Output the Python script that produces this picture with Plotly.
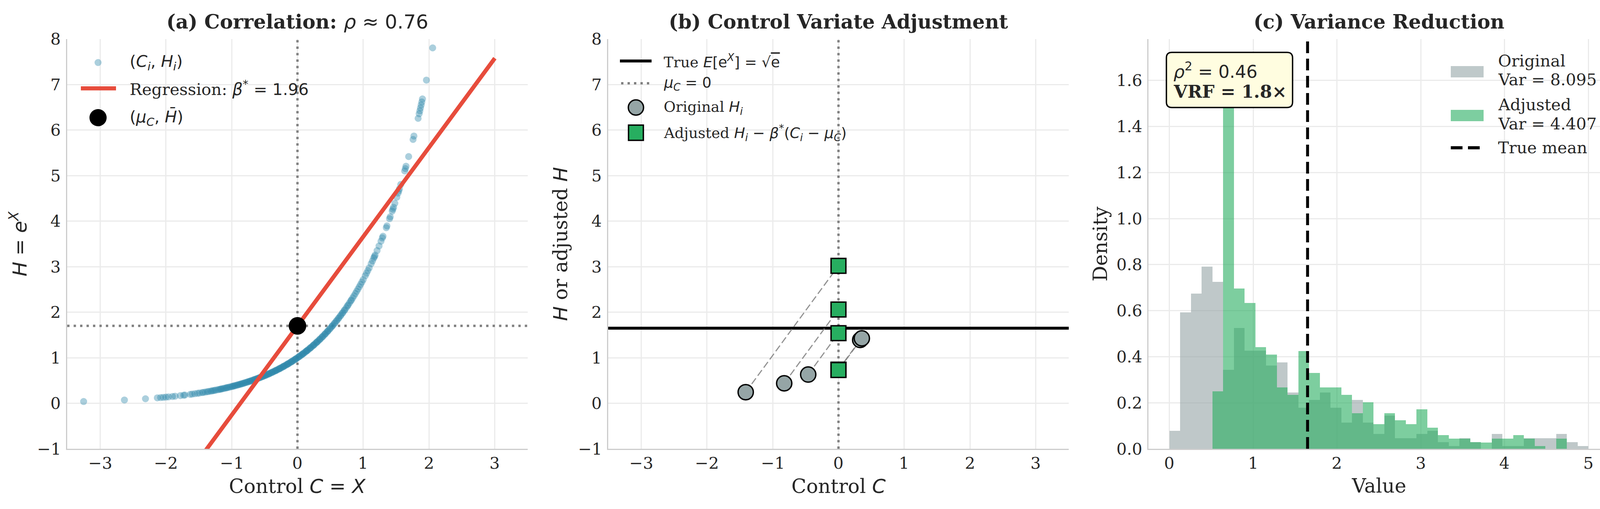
import numpy as np
import plotly.graph_objects as go

W, H = 4150, 1302

# ---------------- data ----------------
# panel (a): control samples C_i; H_i = e^{C_i} by definition
ctrl_a = [-3.25, -2.63, -2.31, -2.13, -2.08, -2.04, -2.00, -1.96, -1.90, -1.86, -1.78, -1.73,
          -1.71, -1.63, -1.60, -1.56, -1.52, -1.49, -1.45, -1.43, -1.40, -1.37, -1.35, -1.32,
          -1.30, -1.28, -1.26, -1.24, -1.21, -1.19, -1.17, -1.16, -1.14, -1.12, -1.10, -1.08,
          -1.07, -1.05, -1.03, -1.01, -0.99, -0.98, -0.96, -0.95, -0.93, -0.91, -0.90, -0.88,
          -0.87, -0.85, -0.84, -0.82, -0.81, -0.79, -0.78, -0.76, -0.75, -0.73, -0.72, -0.71,
          -0.69, -0.68, -0.66, -0.65, -0.64, -0.62, -0.61, -0.60, -0.58, -0.57, -0.56, -0.54,
          -0.53, -0.52, -0.50, -0.49, -0.48, -0.47, -0.45, -0.44, -0.43, -0.42, -0.40, -0.39,
          -0.38, -0.37, -0.35, -0.34, -0.33, -0.32, -0.31, -0.29, -0.28, -0.27, -0.26, -0.25,
          -0.23, -0.22, -0.21, -0.20, -0.19, -0.17, -0.16, -0.15, -0.14, -0.13, -0.11, -0.10,
          -0.09, -0.08, -0.07, -0.05, -0.04, -0.03, -0.02, -0.01, 0.01, 0.02, 0.03, 0.04,
          0.06, 0.07, 0.08, 0.09, 0.10, 0.12, 0.13, 0.14, 0.15, 0.16, 0.18, 0.19, 0.20, 0.21,
          0.23, 0.24, 0.25, 0.26, 0.28, 0.29, 0.30, 0.31, 0.33, 0.34, 0.35, 0.37, 0.38, 0.39,
          0.41, 0.42, 0.43, 0.45, 0.46, 0.47, 0.49, 0.50, 0.52, 0.53, 0.54, 0.56, 0.57, 0.59,
          0.60, 0.62, 0.63, 0.65, 0.66, 0.68, 0.69, 0.71, 0.72, 0.74, 0.76, 0.77, 0.79, 0.81,
          0.82, 0.84, 0.86, 0.88, 0.90, 0.92, 0.94, 0.96, 0.98, 1.00, 1.03, 1.05, 1.07, 1.09,
          1.12, 1.14, 1.16, 1.17, 1.18, 1.21, 1.24, 1.27, 1.29, 1.30, 1.35, 1.36, 1.40, 1.41,
          1.44, 1.45, 1.46, 1.48, 1.51, 1.53, 1.54, 1.55, 1.57, 1.63, 1.64, 1.65, 1.69, 1.757,
          1.77, 1.834, 1.85, 1.86, 1.87, 1.88, 1.89, 1.90, 1.96, 2.055]
h_a = np.exp(ctrl_a)
mu_c = 0.0
h_bar = 1.70
beta = 1.96
reg_x = [-3.0, 3.0]
reg_y = [-4.18, 7.58]

# panel (b)
ctrl_b = [-1.41, -0.825, -0.46, 0.33, 0.355]
h_b = [0.244, 0.438, 0.631, 1.391, 1.426]
adj_b = [3.02, 2.06, 1.54, 0.74, 0.73]
true_mean = 1.6487

# panel (c): histogram densities on 39 equal bins over [0, 5]
bin_lo, bin_hi, n_bins = 0.0, 5.0, 39
dens_orig = [0.078, 0.592, 0.675, 0.791, 0.725, 0.343, 0.525, 0.427, 0.427, 0.361,
             0.376, 0.245, 0.179, 0.212, 0.245, 0.179, 0.113, 0.212, 0.113, 0.064,
             0.145, 0.046, 0.046, 0.064, 0.078, 0.029, 0.012, 0.046, 0.029, 0.0,
             0.064, 0.012, 0.012, 0.046, 0.046, 0.046, 0.064, 0.029, 0.012]
dens_adj = [0.0, 0.0, 0.0, 0.0, 0.250, 1.69, 0.696, 0.633, 0.442, 0.410,
            0.267, 0.235, 0.425, 0.330, 0.267, 0.267, 0.235, 0.155, 0.202, 0.107,
            0.155, 0.124, 0.107, 0.172, 0.092, 0.060, 0.044, 0.044, 0.029, 0.027,
            0.044, 0.044, 0.060, 0.044, 0.012, 0.0, 0.044, 0.0, 0.0]
var_orig, var_adj = "8.095", "4.407"
rho2, vrf = "0.46", "1.8"

ticks_ab_x = [-3, -2, -1, 0, 1, 2, 3]
ticks_ab_y = [-1, 0, 1, 2, 3, 4, 5, 6, 7, 8]
ticks_c_x = [0, 1, 2, 3, 4, 5]
ticks_c_y = [0.0, 0.2, 0.4, 0.6, 0.8, 1.0, 1.2, 1.4, 1.6]

# axis ranges
xr_ab, yr_ab = [-3.5, 3.5], [-1, 8]
xr_c, yr_c = [-0.25, 5.25], [0, 1.78]

# ---------------- style ----------------
SERIF = "DejaVu Serif"
TXT = "#262626"
RED = "#E74C3C"
GREY = "#95A5A6"
GREEN = "#27AE60"
REFGREY = "#808080"
DOT = "6px,10.5px"
TICK_SIZE = 41.7


def m(s, size):
    return f'<span style="font-family:DejaVu Sans;font-size:{size}px">{s}</span>'


def fx(px):
    return px / W


def fy(py):
    return 1 - py / H


fig = go.Figure()


def ref_line(x, y, xa, ya, color, width, dash):
    fig.add_trace(go.Scatter(x=x, y=y, mode="lines", xaxis=xa, yaxis=ya,
                             line=dict(color=color, width=width, dash=dash)))


# ---- panel (a)
ref_line([mu_c, mu_c], yr_ab, "x", "y", REFGREY, 6, DOT)
ref_line(xr_ab, [h_bar, h_bar], "x", "y", REFGREY, 6, DOT)
fig.add_trace(go.Scatter(x=ctrl_a, y=h_a, mode="markers", xaxis="x", yaxis="y",
                         marker=dict(size=18, color="rgba(46,134,171,0.4)", line=dict(width=0))))
fig.add_trace(go.Scatter(x=reg_x, y=reg_y, mode="lines", xaxis="x", yaxis="y",
                         line=dict(color=RED, width=10.5)))
fig.add_trace(go.Scatter(x=[mu_c], y=[h_bar], mode="markers", xaxis="x", yaxis="y",
                         marker=dict(size=45, color="black", line=dict(width=0))))

# ---- panel (b)
ref_line([mu_c, mu_c], yr_ab, "x2", "y2", REFGREY, 6, DOT)
ref_line(xr_ab, [true_mean, true_mean], "x2", "y2", "black", 7.5, "solid")
for c, h0, h1 in zip(ctrl_b, h_b, adj_b):
    fig.add_trace(go.Scatter(x=[c, mu_c], y=[h0, h1], mode="lines", xaxis="x2", yaxis="y2",
                             line=dict(color="rgba(128,128,128,0.85)", width=3, dash="18px,8px")))
fig.add_trace(go.Scatter(x=ctrl_b, y=h_b, mode="markers", xaxis="x2", yaxis="y2",
                         marker=dict(size=39, color=GREY, line=dict(color="black", width=3.5))))
fig.add_trace(go.Scatter(x=[mu_c] * len(adj_b), y=adj_b, mode="markers", xaxis="x2", yaxis="y2",
                         marker=dict(size=38, symbol="square", color=GREEN,
                                     line=dict(color="black", width=3.5))))

# ---- panel (c)
edges = np.linspace(bin_lo, bin_hi, n_bins + 1)
centers = (edges[:-1] + edges[1:]) / 2
bw = edges[1] - edges[0]
fig.add_trace(go.Bar(x=centers, y=dens_orig, width=bw, xaxis="x3", yaxis="y3",
                     marker=dict(color=GREY, line=dict(width=0)), opacity=0.6))
fig.add_trace(go.Bar(x=centers, y=dens_adj, width=bw, xaxis="x3", yaxis="y3",
                     marker=dict(color=GREEN, line=dict(width=0)), opacity=0.6))
ref_line([true_mean, true_mean], yr_c, "x3", "y3", "black", 7.5, "30px,14px")

ydom = [fy(1148), fy(100)]
axis_common = dict(showline=True, linecolor="#cccccc", linewidth=3, mirror=False,
                   showgrid=True, gridcolor="#ebebeb", gridwidth=2.5, zeroline=False,
                   ticks="", showticklabels=False)

fig.update_layout(
    width=W, height=H, margin=dict(l=0, r=0, t=0, b=0, autoexpand=False),
    paper_bgcolor="white", plot_bgcolor="white", showlegend=False,
    barmode="overlay", bargap=0,
    xaxis=dict(domain=[fx(172), fx(1351)], range=xr_ab, tickvals=ticks_ab_x, anchor="y",
               **axis_common),
    yaxis=dict(domain=ydom, range=yr_ab, tickvals=ticks_ab_y, anchor="x", **axis_common),
    xaxis2=dict(domain=[fx(1557), fx(2736)], range=xr_ab, tickvals=ticks_ab_x, anchor="y2",
                **axis_common),
    yaxis2=dict(domain=ydom, range=yr_ab, tickvals=ticks_ab_y, anchor="x2", **axis_common),
    xaxis3=dict(domain=[fx(2940), fx(4120)], range=xr_c, tickvals=ticks_c_x, anchor="y3",
                **axis_common),
    yaxis3=dict(domain=ydom, range=yr_c, tickvals=ticks_c_y, anchor="x3", **axis_common),
)

shapes = []


def seg(x0, y0, x1, y1, color, width, dash="solid"):
    shapes.append(dict(type="line", xref="paper", yref="paper", x0=fx(x0), x1=fx(x1),
                       y0=fy(y0), y1=fy(y1), line=dict(color=color, width=width, dash=dash),
                       layer="above"))


def circ(cx, cy, d, fill, lw=0, lc="black"):
    r = d / 2
    shapes.append(dict(type="circle", xref="paper", yref="paper", x0=fx(cx - r), x1=fx(cx + r),
                       y0=fy(cy + r), y1=fy(cy - r), fillcolor=fill,
                       line=dict(color=lc, width=lw), layer="above"))


def rect(x0, y0, x1, y1, fill, lw=0, lc="black"):
    shapes.append(dict(type="rect", xref="paper", yref="paper", x0=fx(x0), x1=fx(x1),
                       y0=fy(y1), y1=fy(y0), fillcolor=fill, line=dict(color=lc, width=lw),
                       layer="above"))


# legend (a)
circ(251, 160, 18, "rgba(46,134,171,0.4)")
seg(207, 226, 297, 226, RED, 10.5)
circ(251, 301, 44, "black")
# legend (b)
seg(1587, 156, 1668, 156, "black", 7.5)
seg(1590, 213, 1664, 213, REFGREY, 6, DOT)
circ(1628, 275, 39, GREY, 3.5)
rect(1609, 320, 1647, 359, GREEN, 3.5)
# legend (c)
rect(3714, 169, 3798, 198, "rgba(149,165,166,0.6)")
rect(3714, 281, 3798, 310, "rgba(39,174,96,0.6)")
seg(3714, 378, 3789, 378, "black", 8, "30px,14px")

# rounded annotation box (c)
bx0, by0, bx1, by1, rr = 2986, 134, 3309, 275, 14


def P(x, y):
    return f"{fx(x):.6f},{fy(y):.6f}"


path = (f"M {P(bx0 + rr, by0)} L {P(bx1 - rr, by0)} Q {P(bx1, by0)} {P(bx1, by0 + rr)} "
        f"L {P(bx1, by1 - rr)} Q {P(bx1, by1)} {P(bx1 - rr, by1)} "
        f"L {P(bx0 + rr, by1)} Q {P(bx0, by1)} {P(bx0, by1 - rr)} "
        f"L {P(bx0, by0 + rr)} Q {P(bx0, by0)} {P(bx0 + rr, by0)} Z")
shapes.append(dict(type="path", xref="paper", yref="paper", path=path, fillcolor="#FFFDE0",
                   line=dict(color="black", width=3.5), layer="above"))

fig.update_layout(shapes=shapes)

ann = []


def text(x, y, s, size, xanchor="left", angle=0, color=TXT):
    ann.append(dict(x=fx(x), y=fy(y), xref="paper", yref="paper", text=s, showarrow=False,
                    xanchor=xanchor, yanchor="middle", textangle=angle,
                    font=dict(family=SERIF, size=size, color=color)))


def fmt_int(v):
    return f"{v:d}".replace("-", "−")


# tick labels, placed through each axis' own data scale
XTICK_Y = 1184          # label centre (px from top)
for xa, vals, fmt in (("x", ticks_ab_x, fmt_int), ("x2", ticks_ab_x, fmt_int),
                      ("x3", ticks_c_x, fmt_int)):
    for v in vals:
        ann.append(dict(x=v, y=fy(XTICK_Y), xref=xa, yref="paper", text=fmt(v),
                        showarrow=False, xanchor="center", yanchor="middle",
                        font=dict(family=SERIF, size=TICK_SIZE, color=TXT)))
for ya, left, vals, fmt in (("y", 172, ticks_ab_y, fmt_int), ("y2", 1557, ticks_ab_y, fmt_int),
                            ("y3", 2940, ticks_c_y, lambda v: f"{v:.1f}")):
    for v in vals:
        ann.append(dict(x=fx(left - 14), y=v, xref="paper", yref=ya, text=fmt(v),
                        showarrow=False, xanchor="right", yanchor="middle",
                        font=dict(family=SERIF, size=TICK_SIZE, color=TXT)))

TS, LS, LB, LEG = 50, 50, 37.5, 41.7
# titles
text(761.5, 56, "<b>(a) Correlation: </b>" + m("<i>ρ</i> ≈ 0.76", TS), TS, "center")
text(2146.5, 56, "<b>(b) Control Variate Adjustment</b>", TS, "center")
text(3530, 56, "<b>(c) Variance Reduction</b>", TS, "center")
# axis titles
text(761.5, 1244, "Control " + m("<i>C</i> = <i>X</i>", LS), LS, "center")
text(2146.5, 1244, "Control " + m("<i>C</i>", LS), LS, "center")
text(3530, 1243, "Value", LS, "center")
text(48, 624, m("<i>H</i> = <i>e</i><sup><i>X</i></sup>", LS), LS, "center", -90)
text(1435, 624, m("<i>H</i>", LS) + " or adjusted " + m("<i>H</i>", LS), LS, "center", -90)
text(2817, 624, "Density", LS, "center", -90)
# legend (a)
text(330, 160, m("(<i>C<sub>i</sub></i>, <i>H<sub>i</sub></i>)", LEG), LEG)
text(330, 226, "Regression: " + m(f"<i>β</i><sup>*</sup> = {beta:.2f}", LEG), LEG)
text(330, 301, m("(<i>μ<sub>C</sub></i>, <i>H̄</i>)", LEG), LEG)
# legend (b)
text(1697, 156, "True " + m('<i>E</i>[e<sup><i>X</i></sup>] = √<span style="text-decoration:overline">e</span>', LB), LB)
text(1697, 213, m("<i>μ<sub>C</sub></i> = 0", LB), LB)
text(1697, 275, "Original " + m("<i>H<sub>i</sub></i>", LB), LB)
text(1697, 340, "Adjusted " + m("<i>H<sub>i</sub></i> − <i>β</i><sup>*</sup>(<i>C<sub>i</sub></i> − <i>μ<sub>C</sub></i>)", LB), LB)
# legend (c)
text(3833, 155, "Original", LEG)
text(3833, 204, f"Var = {var_orig}", LEG)
text(3833, 268, "Adjusted", LEG)
text(3833, 316, f"Var = {var_adj}", LEG)
text(3833, 378, "True mean", LEG)
# annotation box text
text(3002, 180, m(f"<i>ρ</i><sup>2</sup> = {rho2}", 45), 45)
text(3002, 234, f"<b>VRF = {vrf}×</b>", 45)

fig.update_layout(annotations=ann)

fig.write_html("out.html", config={"displayModeBar": False},
               post_script="document.body.style.margin='0';document.body.style.overflow='hidden';")
